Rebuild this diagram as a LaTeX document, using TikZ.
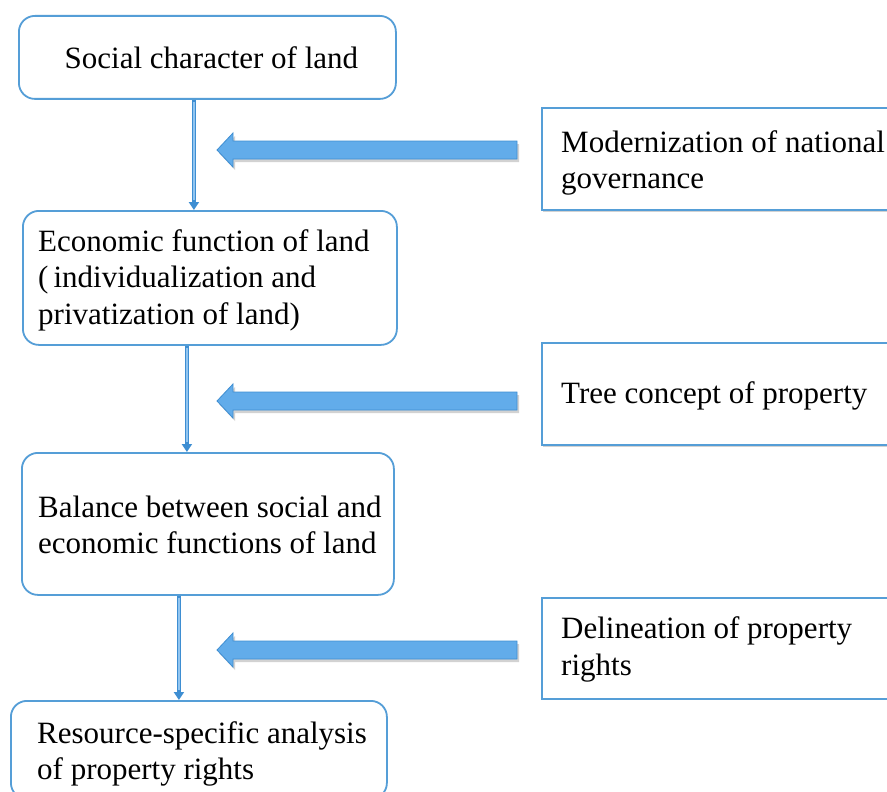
\documentclass[tikz,border=0pt]{standalone}
\usepackage{fontspec}
\setmainfont{Liberation Serif}
\usetikzlibrary{arrows.meta,calc}
\definecolor{boxblue}{RGB}{85,158,215}
\definecolor{arrfill}{RGB}{98,172,234}
\definecolor{arredge}{RGB}{62,142,210}
\definecolor{shadowgray}{RGB}{210,210,210}
\begin{document}
\begin{tikzpicture}[x=1pt,y=-1pt,
  txt/.style={font=\fontsize{31}{36.5}\selectfont,inner sep=0pt,align=left,anchor=west},
  lbox/.style={draw=boxblue,line width=1.8pt,rounded corners=16pt,fill=white,
    anchor=north west,inner sep=0pt},
  rbox/.style={draw=boxblue,line width=1.8pt,fill=white,anchor=north west,
    minimum width=360pt,inner sep=0pt},
  rshadow/.style={fill=shadowgray,draw=none},
  varrow/.style={draw=arredge,line width=3.5pt,-{Triangle[width=10pt,length=8pt]}},
  vinner/.style={draw=arrfill!70!white,line width=1.3pt},
  barrow/.style={fill=arrfill,draw=arredge,line width=0.8pt,line join=miter},
  bshadow/.style={fill=shadowgray,draw=none}
]
\useasboundingbox (0,0) rectangle (887,792);
\clip (0,0) rectangle (887,792);
\fill[white] (0,0) rectangle (887,792);

% left boxes
\node[lbox,minimum width=377pt,minimum height=83pt] (b1) at (18,15) {};
\node[txt,anchor=center] (b1t) at ([xshift=4pt]b1.center) {Social character of land};
\node[lbox,minimum width=374pt,minimum height=134pt] (b2) at (22,210) {};
\node[txt] (b2t) at ([xshift=16pt,yshift=-2pt]b2.west) {Economic function of land\\(\hspace{5pt}individualization and\\privatization of land)};
\node[lbox,minimum width=372pt,minimum height=142pt] (b3) at (21,452) {};
\node[txt] (b3t) at ([xshift=17pt,yshift=-1pt]b3.west) {Balance between social and\\economic functions of land};
\node[lbox,minimum width=376pt,minimum height=98pt] (b4) at (10,700) {};
\node[txt] (b4t) at ([xshift=27pt,yshift=-4pt]b4.west) {Resource-specific analysis\\of property rights};

% right boxes with shadows
\fill[rshadow] (543,111) rectangle (900,212);
\node[rbox,minimum height=102pt] (r1) at (541,107) {};
\node[txt] (r1t) at ([xshift=20pt,yshift=-4pt]r1.west) {Modernization of national\\governance};
\fill[rshadow] (543,346) rectangle (900,447);
\node[rbox,minimum height=102pt] (r2) at (541,342) {};
\node[txt] (r2t) at ([xshift=20pt,yshift=-2pt]r2.west) {Tree concept of property};
\fill[rshadow] (543,601) rectangle (900,700);
\node[rbox,minimum height=101pt] (r3) at (541,597) {};
\node[txt] (r3t) at ([xshift=20pt,yshift=-1pt]r3.west) {Delineation of property\\rights};

% vertical arrows
\draw[varrow] ([xshift=-13.5pt]b1.south) -- ([xshift=-13.5pt]b1.south |- b2.north);
\draw[vinner] ([xshift=-13.5pt,yshift=-2pt]b1.south) -- ([xshift=-13.5pt,yshift=10pt]b1.south |- b2.north);
\draw[varrow] ([xshift=-23pt]b2.south) -- ([xshift=-23pt]b2.south |- b3.north);
\draw[vinner] ([xshift=-23pt,yshift=-2pt]b2.south) -- ([xshift=-23pt,yshift=10pt]b2.south |- b3.north);
\draw[varrow] ([xshift=-29pt]b3.south) -- ([xshift=-29pt]b3.south |- b4.north);
\draw[vinner] ([xshift=-29pt,yshift=-2pt]b3.south) -- ([xshift=-29pt,yshift=10pt]b3.south |- b4.north);

% block arrows (tail points)
\coordinate (t1) at (517,150);
\coordinate (t2) at (517,401);
\coordinate (t3) at (517,650);
\foreach \t in {t1,t2,t3}{
  \fill[bshadow] ([shift={(2,3)}]\t) ++(0,-9) -- ++(-284,0) -- ++(0,-8) -- ++(-16,17)
     -- ++(16,17) -- ++(0,-8) -- ++(284,0) -- cycle;
  \draw[barrow] (\t) ++(0,-9) -- ++(-284,0) -- ++(0,-8) -- ++(-16,17)
     -- ++(16,17) -- ++(0,-8) -- ++(284,0) -- cycle;
}
\end{tikzpicture}
\end{document}
